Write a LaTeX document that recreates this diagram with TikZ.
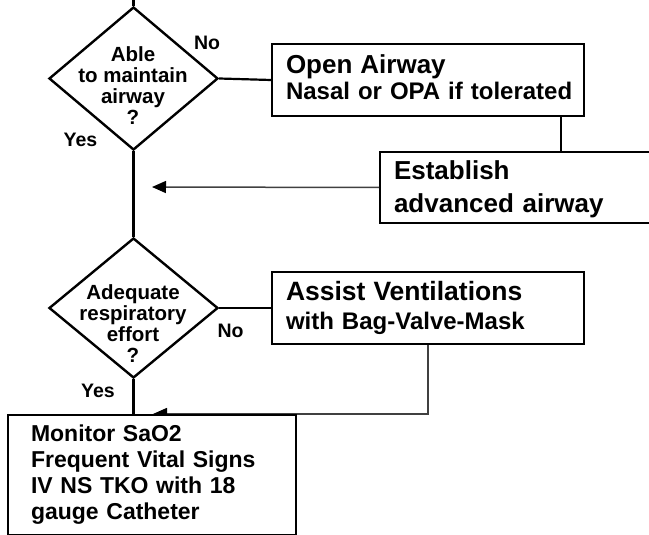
\documentclass[tikz,border=0pt]{standalone}
\usepackage{fontspec}
\setmainfont{Liberation Sans}
\usetikzlibrary{shapes.geometric,arrows.meta,backgrounds}

\begin{document}
\begin{tikzpicture}[x=1pt,y=-1pt,
    decision/.style={diamond, draw, line width=2.4pt, fill=white, inner sep=0pt, minimum width=169pt},
    qtext/.style={align=center, inner sep=0pt, font=\bfseries\fontsize{20.5}{21}\selectfont},
    action/.style={rectangle, draw, line width=2pt, fill=white, anchor=north west, align=left, inner ysep=0pt, inner xsep=14pt},
    answer/.style={inner sep=0pt, font=\bfseries\fontsize{19.5}{20}\selectfont},
    link/.style={line width=2.2pt},
    tie/.style={line width=1.5pt},
    feed/.style={line width=1.5pt, draw=black!75, -{Triangle[length=14pt,width=12pt,black]}}]
    \useasboundingbox (0,0) rectangle (649,535);
    \clip (0,0) rectangle (649,535);

    % Airway question
    \node[decision, minimum height=143pt] (airway) at (133.5,78.5) {};
    \node[qtext] (airwayq) at (133,86) {Able\\to maintain\\airway\\?};
    \node[answer] (no1) at (207,43) {No};
    \node[answer] (yes1) at (80.5,139.5) {Yes};

    \node[action, minimum width=312pt, minimum height=72pt, text width=284pt,
          font=\bfseries\fontsize{24}{26}\selectfont] (open) at (271,43)
          {{\fontsize{26}{26}\selectfont Open Airway}\\\mbox{Nasal or OPA if tolerated}\rule[-5pt]{0pt}{5pt}};
    \node[action, minimum width=291pt, minimum height=71pt, text width=263pt,
          font=\bfseries\fontsize{26}{33}\selectfont] (advanced) at (379,151)
          {\rule{0pt}{23pt}Establish\\advanced airway};

    % Breathing question
    \node[decision, minimum height=140pt] (effort) at (133.5,308) {};
    \node[qtext] (effortq) at (133,324) {Adequate\\respiratory\\effort\\?};
    \node[answer] (no2) at (230.5,331) {No};
    \node[answer] (yes2) at (98,391) {Yes};

    \node[action, minimum width=312pt, minimum height=72pt, text width=284pt,
          font=\bfseries\fontsize{24}{29}\selectfont] (assist) at (271,271)
          {{\fontsize{26.5}{29}\selectfont Assist Ventilations}\\with Bag-Valve-Mask};

    % Monitoring
    \node[action, minimum width=288pt, minimum height=120pt, inner xsep=23pt, text width=242pt,
          font=\bfseries\fontsize{23}{26}\selectfont] (monitor) at (7,414)
          {Monitor SaO2\\Frequent Vital Signs\\IV NS TKO with 18\\gauge Catheter};

    % Connectors
    \coordinate (start) at (133.5,0);
    \coordinate (ret1) at (152,187);
    \coordinate (ret2) at (153,414);
    \draw[link] (start) -- (airway.north);
    \draw[link] (airway.east) -- (open.west);
    \draw[tie] ([xshift=-24pt]open.south east) -- ([xshift=-24pt]open.south east |- advanced.north);
    \draw[feed] (advanced.west) -- (ret1);
    \draw[link] (airway.south) -- (effort.north);
    \draw[link] (effort.east) -- (assist.west);
    \draw[link] (effort.south) -- (effort.south |- monitor.north);
    \begin{pgfonlayer}{background}
        \draw[feed] (assist.south) |- (ret2);
    \end{pgfonlayer}
\end{tikzpicture}
\end{document}
